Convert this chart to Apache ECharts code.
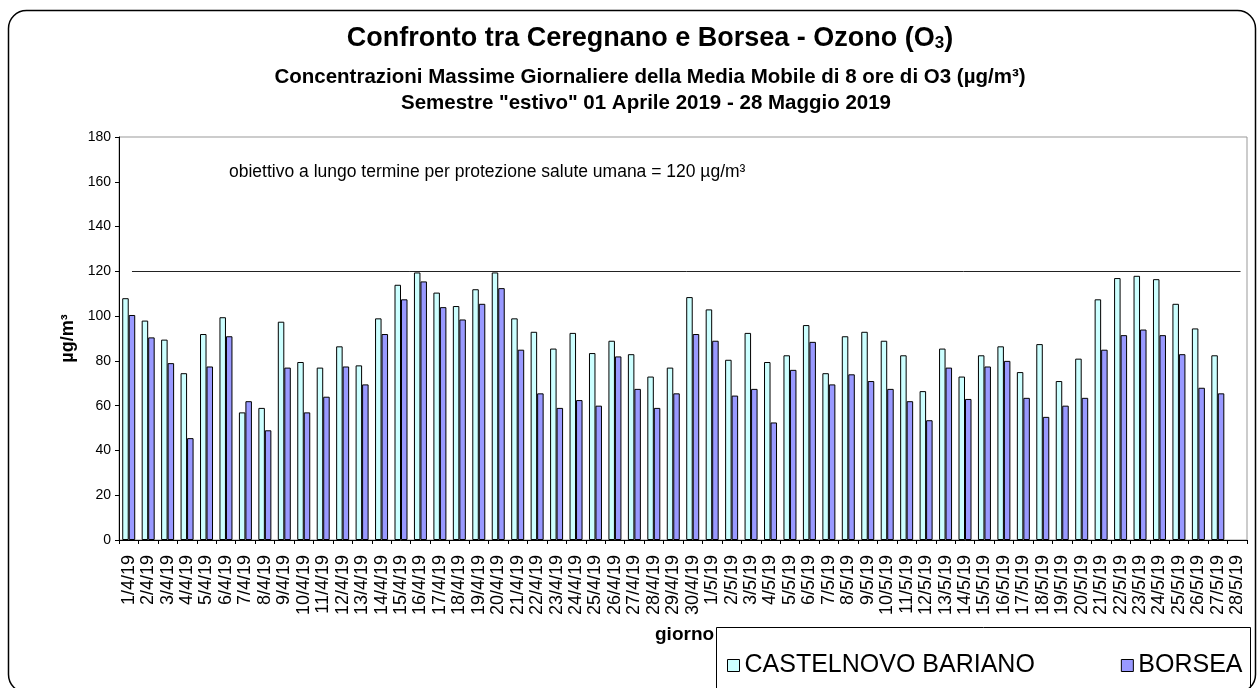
<!DOCTYPE html>
<html>
<head>
<meta charset="utf-8">
<script src="https://cdn.jsdelivr.net/npm/echarts@6/dist/echarts.min.js"></script>
<style>
  html, body { margin: 0; padding: 0; background: #fff; }
  #main { width: 1260px; height: 688px; }
</style>
</head>
<body>
<div id="main"></div>
<script>
const days = [
  "1/4/19", "2/4/19", "3/4/19", "4/4/19", "5/4/19", "6/4/19", "7/4/19", "8/4/19", "9/4/19", "10/4/19",
  "11/4/19", "12/4/19", "13/4/19", "14/4/19", "15/4/19", "16/4/19", "17/4/19", "18/4/19", "19/4/19", "20/4/19",
  "21/4/19", "22/4/19", "23/4/19", "24/4/19", "25/4/19", "26/4/19", "27/4/19", "28/4/19", "29/4/19", "30/4/19",
  "1/5/19", "2/5/19", "3/5/19", "4/5/19", "5/5/19", "6/5/19", "7/5/19", "8/5/19", "9/5/19", "10/5/19",
  "11/5/19", "12/5/19", "13/5/19", "14/5/19", "15/5/19", "16/5/19", "17/5/19", "18/5/19", "19/5/19", "20/5/19",
  "21/5/19", "22/5/19", "23/5/19", "24/5/19", "25/5/19", "26/5/19", "27/5/19", "28/5/19"
];

// CASTELNOVO BARIANO
const castelnovo = [
  108, 98, 89.5, 74.5, 92, 99.5, 57, 59, 97.5, 79.5,
  77, 86.5, 78, 99, 114, 119.5, 110.5, 104.5, 112, 119.5,
  99, 93, 85.5, 92.5, 83.5, 89, 83, 73, 77, 108.5,
  103, 80.5, 92.5, 79.5, 82.5, 96, 74.5, 91, 93, 89,
  82.5, 66.5, 85.5, 73, 82.5, 86.5, 75, 87.5, 71, 81,
  107.5, 117, 118, 116.5, 105.5, 94.5, 82.5, null
];

// BORSEA
const borsea = [
  100.5, 90.5, 79, 45.5, 77.5, 91, 62, 49, 77, 57,
  64, 77.5, 69.5, 92, 107.5, 115.5, 104, 98.5, 105.5, 112.5,
  85, 65.5, 59, 62.5, 60, 82, 67.5, 59, 65.5, 92,
  89, 64.5, 67.5, 52.5, 76, 88.5, 69.5, 74, 71, 67.5,
  62, 53.5, 77, 63, 77.5, 80, 63.5, 55, 60, 63.5,
  85, 91.5, 94, 91.5, 83, 68, 65.5, null
];

const soglia = 120; // obiettivo a lungo termine
const yTicks = { min: 0, max: 180, step: 20 };

const FONT = '"Liberation Sans", Arial, sans-serif';

const myChart = echarts.init(document.getElementById("main"));

const option = {
  animation: false,
  backgroundColor: "#fff",
  textStyle: { fontFamily: FONT, color: "#000" },
  title: [
    {
      text: "Confronto tra Ceregnano e Borsea - Ozono (O{sub|3})",
      left: 645,
      top: 20,
      textAlign: "center",
      textStyle: {
        fontFamily: FONT,
        fontSize: 27,
        fontWeight: "bold",
        color: "#000",
        rich: {
          sub: { fontFamily: FONT, fontSize: 17, fontWeight: "bold", color: "#000", verticalAlign: "bottom", padding: [10, 0, 0, 0] },
        },
      },
    },
    {
      text: "Concentrazioni Massime Giornaliere della Media Mobile di 8 ore di O3 (µg/m³)",
      left: 645,
      top: 62,
      textAlign: "center",
      textStyle: { fontFamily: FONT, fontSize: 20.5, fontWeight: "bold", color: "#000" },
    },
    {
      text: 'Semestre "estivo" 01 Aprile 2019 - 28 Maggio 2019',
      left: 641,
      top: 88,
      textAlign: "center",
      textStyle: { fontFamily: FONT, fontSize: 20.5, fontWeight: "bold", color: "#000" },
    },
  ],
  legend: {
    left: 722,
    top: 648,
    itemWidth: 12,
    itemHeight: 12,
    itemGap: 86,
    icon: "rect",
    textStyle: { fontFamily: FONT, fontSize: 25, color: "#000" },
    data: [
      { name: "CASTELNOVO BARIANO", itemStyle: { color: "#CCFFFF", borderColor: "#000", borderWidth: 1 } },
      { name: "BORSEA", itemStyle: { color: "#9999FF", borderColor: "#000", borderWidth: 1 } },
    ],
  },
  grid: {
    left: 119,
    right: 13,
    top: 137,
    bottom: 148,
    show: true,
    borderColor: "#999",
    borderWidth: 1,
  },
  xAxis: {
    type: "category",
    data: days,
    axisLine: { lineStyle: { color: "#000", width: 1 } },
    axisTick: { show: true, length: 4, interval: 0, lineStyle: { color: "#000" } },
    axisLabel: {
      interval: 0,
      rotate: 90,
      margin: 15,
      fontFamily: FONT,
      fontSize: 18,
      color: "#000",
    },
    splitLine: { show: false },
  },
  yAxis: {
    type: "value",
    min: yTicks.min,
    max: yTicks.max,
    interval: yTicks.step,
    name: "µg/m³",
    nameLocation: "middle",
    nameRotate: 90,
    nameGap: 42,
    nameTextStyle: { fontFamily: FONT, fontSize: 18, fontWeight: "bold", color: "#000" },
    axisLine: { show: true, lineStyle: { color: "#000", width: 1 } },
    axisTick: { show: true, length: 4, lineStyle: { color: "#000" } },
    axisLabel: { fontFamily: FONT, fontSize: 14, color: "#000", margin: 8 },
    splitLine: { show: false },
  },
  series: [
    {
      name: "CASTELNOVO BARIANO",
      type: "bar",
      barWidth: 6.5,
      barGap: "0%",
      itemStyle: { color: "#CCFFFF", borderColor: "#000", borderWidth: 1 },
      data: castelnovo,
    },
    {
      name: "BORSEA",
      type: "bar",
      barWidth: 6.5,
      barGap: "0%",
      itemStyle: { color: "#9999FF", borderColor: "#000", borderWidth: 1 },
      data: borsea,
      markLine: {
        silent: true,
        symbol: ["none", "none"],
        label: { show: false },
        lineStyle: { color: "#222", type: "solid", width: 1 },
        data: [
          [
            { coord: [days[0], soglia] },
            { coord: [days[days.length - 1], soglia] },
          ],
        ],
      },
    },
  ],
  graphic: [
    {
      type: "rect",
      shape: { x: 8.5, y: 10.5, width: 1247, height: 682, r: 18 },
      style: { fill: null, stroke: "#000", lineWidth: 1.5 },
      silent: true,
      z: 100,
    },
    {
      type: "rect",
      shape: { x: 716.5, y: 627.5, width: 534, height: 80 },
      style: { fill: "#fff", stroke: "#000", lineWidth: 1 },
      silent: true,
      z: -1,
    },
    {
      type: "text",
      left: 655,
      top: 625,
      style: { text: "giorno", font: "bold 19px " + FONT, fill: "#000" },
    },
    {
      type: "text",
      left: 229,
      top: 163,
      style: { text: "obiettivo a lungo termine per protezione salute umana = 120 µg/m³", font: "17.5px " + FONT, fill: "#000" },
    },
  ],
};

myChart.setOption(option);
</script>
</body>
</html>
